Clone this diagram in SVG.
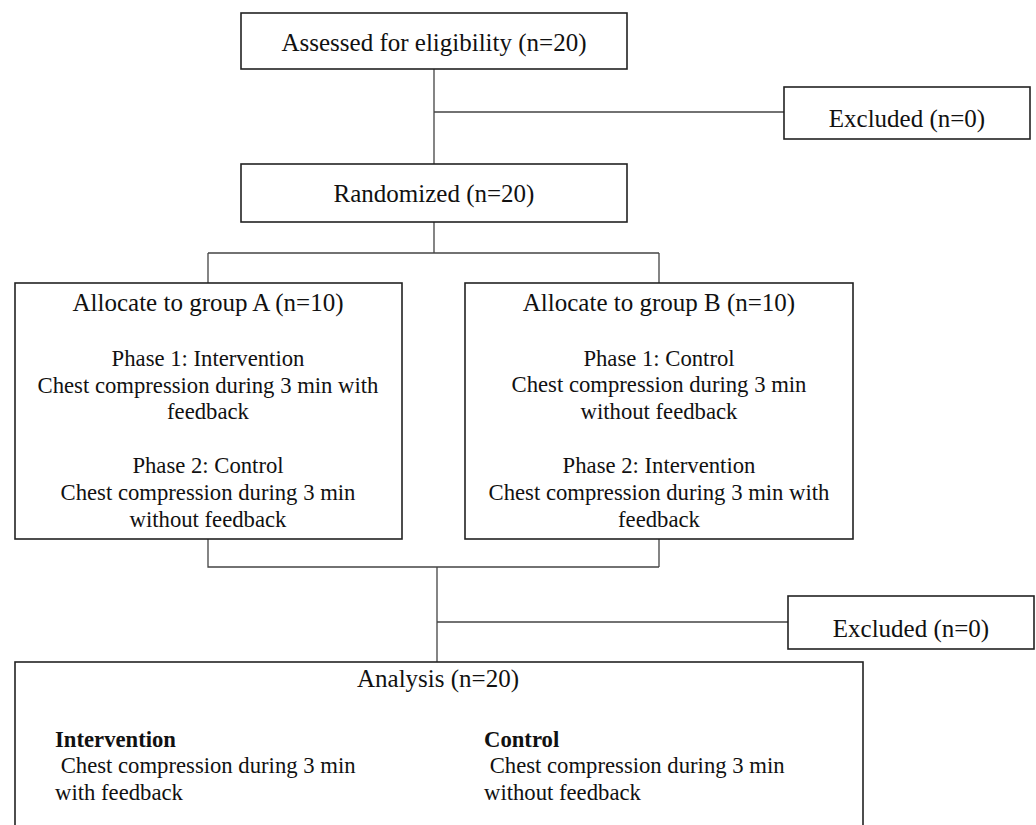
<svg xmlns="http://www.w3.org/2000/svg" width="1036" height="825" viewBox="0 0 1036 825">
<style>
.box{fill:#fff;stroke:#222;stroke-width:1.6}
.ln{fill:none;stroke:#444;stroke-width:1.3}
text{font-family:"Liberation Serif","Times New Roman",serif;fill:#111}
.t{font-size:25px;text-anchor:middle}
.b{font-size:22.7px;text-anchor:middle}
.s{font-size:22.7px}
.h{font-size:22.7px;font-weight:bold}
</style>
<rect width="1036" height="825" fill="#fff"/>
<g id="connectors">
<path class="ln" d="M434 69V164M434 112H784"/>
<path class="ln" d="M434 222V253M208 253H659M208 253V283M659 253V283"/>
<path class="ln" d="M208 539V567H659M659 539V567M437 567V662M437 622H788"/>
</g>
<g id="assessed">
<rect class="box" x="241" y="13" width="386" height="56"/>
<text class="t" x="434" y="51">Assessed for eligibility (n=20)</text>
</g>
<g id="excluded1">
<rect class="box" x="784" y="87" width="246" height="52"/>
<text class="t" x="907" y="127">Excluded (n=0)</text>
</g>
<g id="randomized">
<rect class="box" x="241" y="164" width="386" height="58"/>
<text class="t" x="434" y="202">Randomized (n=20)</text>
</g>
<g id="groupA">
<rect class="box" x="15" y="283" width="387" height="256"/>
<text class="t" x="208" y="311">Allocate to group A (n=10)</text>
<text class="b" x="208" y="366">Phase 1: Intervention</text>
<text class="b" x="208" y="393">Chest compression during 3 min with</text>
<text class="b" x="208" y="419">feedback</text>
<text class="b" x="208" y="473">Phase 2: Control</text>
<text class="b" x="208" y="500">Chest compression during 3 min</text>
<text class="b" x="208" y="527">without feedback</text>
</g>
<g id="groupB">
<rect class="box" x="465" y="283" width="388" height="256"/>
<text class="t" x="659" y="311">Allocate to group B (n=10)</text>
<text class="b" x="659" y="366">Phase 1: Control</text>
<text class="b" x="659" y="392">Chest compression during 3 min</text>
<text class="b" x="659" y="419">without feedback</text>
<text class="b" x="659" y="473">Phase 2: Intervention</text>
<text class="b" x="659" y="500">Chest compression during 3 min with</text>
<text class="b" x="659" y="527">feedback</text>
</g>
<g id="excluded2">
<rect class="box" x="788" y="596" width="246" height="53"/>
<text class="t" x="911" y="637">Excluded (n=0)</text>
</g>
<g id="analysis">
<rect class="box" x="15" y="662" width="848" height="180"/>
<text class="t" x="438" y="687">Analysis (n=20)</text>
<text class="h" x="55" y="747">Intervention</text>
<text class="s" x="55" y="773" xml:space="preserve"> Chest compression during 3 min</text>
<text class="s" x="55" y="800">with feedback</text>
<text class="h" x="484" y="747">Control</text>
<text class="s" x="484" y="773" xml:space="preserve"> Chest compression during 3 min</text>
<text class="s" x="484" y="800">without feedback</text>
</g>
</svg>
